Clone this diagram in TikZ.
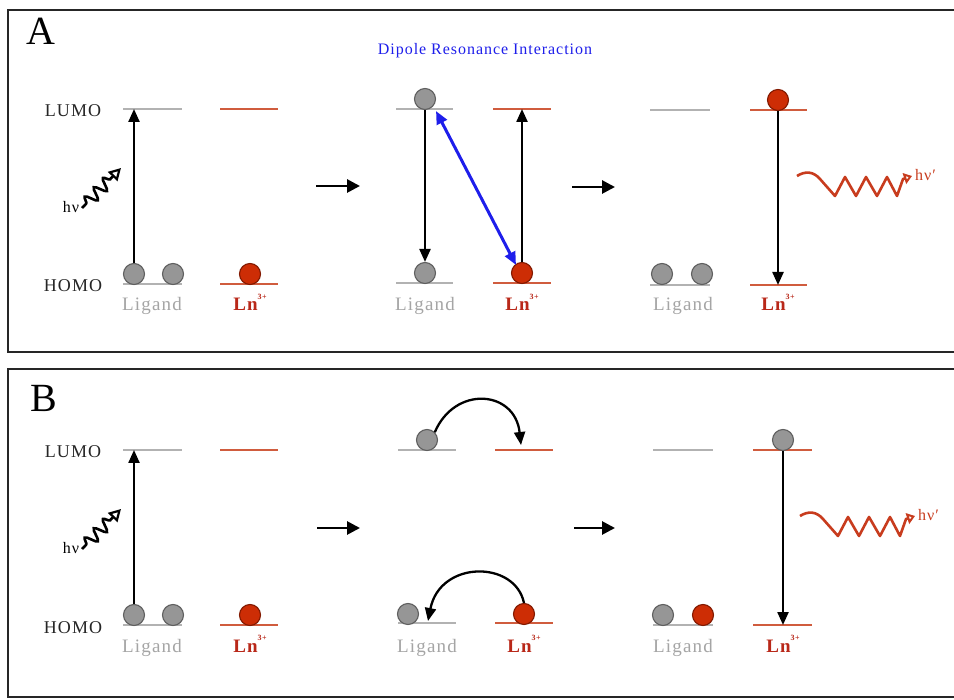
\documentclass[tikz,border=0pt]{standalone}
\usepackage{fontspec}
\setmainfont[LetterSpace=6]{Liberation Serif}
\usetikzlibrary{arrows.meta,decorations.pathmorphing}

\definecolor{lvlgray}{RGB}{178,178,178}
\definecolor{lvlred}{RGB}{208,92,62}
\definecolor{lntext}{RGB}{185,40,25}
\definecolor{ligtext}{RGB}{165,165,165}
\definecolor{dotgray}{RGB}{150,150,150}
\definecolor{dotgrayline}{RGB}{95,95,95}
\definecolor{dotred}{RGB}{205,45,5}
\definecolor{dotredline}{RGB}{130,25,0}
\definecolor{dipole}{RGB}{30,30,235}
\definecolor{emit}{RGB}{200,60,30}

\newcommand\lnion{Ln\raisebox{0.6em}{\fontsize{8}{8}\selectfont 3+}}

\tikzset{
  glevel/.style={draw=lvlgray, line width=1.7pt},
  rlevel/.style={draw=lvlred, line width=1.7pt},
  gdot/.style={circle, minimum size=21pt, inner sep=0pt, fill=dotgray, draw=dotgrayline, line width=1.1pt},
  rdot/.style={circle, minimum size=21pt, inner sep=0pt, fill=dotred, draw=dotredline, line width=1.1pt},
  trans/.style={line width=2.3pt, -{Triangle[length=13pt, width=11pt]}},
  react/.style={line width=2.8pt, -{Triangle[length=13pt, width=13pt]}},
  hop/.style={line width=2.3pt, -{Triangle[length=13pt, width=11pt]}},
  dipolearrow/.style={draw=dipole, line width=3pt, {Triangle[length=13pt, width=11pt]}-{Triangle[length=13pt, width=11pt]}},
  inwave/.style={line width=2.6pt, decorate,
    decoration={snake, amplitude=6pt, segment length=13pt, pre length=6pt, post length=10pt},
    -{Triangle[open, length=12pt, width=13pt, line width=2.2pt]}},
  emitwave/.style={draw=emit, line width=2.6pt, line join=round,
    -{Triangle[open, length=8pt, width=11pt, line width=2pt]}},
  panelbox/.style={draw=black!85, line width=1.8pt},
  panelletter/.style={font=\fontsize{40}{40}\selectfont, anchor=base, inner sep=0pt},
  levelname/.style={font=\fontsize{18}{18}\selectfont, text=black!85, anchor=base, inner sep=0pt},
  ligname/.style={font=\fontsize{19}{19}\selectfont, text=ligtext, anchor=base, inner sep=0pt},
  lnname/.style={font=\fontsize{19}{19}\selectfont\bfseries, text=lntext, anchor=base, inner sep=0pt},
  hvtext/.style={font=\fontsize{16}{16}\selectfont, anchor=base, inner sep=0pt},
  titletext/.style={font=\fontsize{16}{16}\selectfont, text=dipole, anchor=base, inner sep=0pt},
}

\begin{document}
\begin{tikzpicture}[x=1pt, y=-1pt]
\useasboundingbox (0,0) rectangle (954,700);
\clip (0,0) rectangle (954,700);
\fill[white] (0,0) rectangle (954,700);

% =================== Panel A ===================
\draw[panelbox] (8,10) rectangle (990,352);
\node[panelletter] (labA) at (41,45) {A};
\node[levelname] (lumoA) at (73,117) {LUMO};
\node[levelname] (homoA) at (73,292) {HOMO};
\node[titletext] (titleA) at (485,55) {Dipole Resonance Interaction};

% -- A, step 1: absorption by the ligand
\draw[glevel] (123,109) -- (182,109);
\draw[glevel] (123,284) -- (182,284);
\draw[rlevel] (220,109) -- (278,109);
\draw[rlevel] (220,284) -- (278,284);
\node[gdot] (aLg1) at (134,274) {};
\node[gdot] (aLg2) at (173,274) {};
\node[rdot] (aLr) at (250,274) {};
\coordinate (aLtop) at (134,109);
\draw[trans] (aLg1.north) -- (aLtop);
\node[hvtext] (aHv) at (71,213) {hν};
\coordinate (aHvs) at (82,208);
\coordinate (aHvt) at (121,168);
\draw[inwave] (aHvs) -- (aHvt);
\node[ligname] (aLlig) at (152,311) {Ligand};
\node[lnname] (aLln) at (250,311) {\lnion};

\coordinate (aAr1s) at (316,186);
\coordinate (aAr1e) at (360,186);
\draw[react] (aAr1s) -- (aAr1e);

% -- A, step 2: dipole coupling
\draw[glevel] (396,109) -- (453,109);
\draw[glevel] (396,283) -- (453,283);
\draw[rlevel] (493,109) -- (551,109);
\draw[rlevel] (493,283) -- (551,283);
\node[gdot] (aMgu) at (425,99) {};
\node[gdot] (aMgl) at (425,273) {};
\node[rdot] (aMr) at (522,273) {};
\draw[trans] (aMgu.south) -- (aMgl.north);
\coordinate (aMrtop) at (522,109);
\draw[trans] (aMr.north) -- (aMrtop);
\coordinate (aDip1) at (436,111);
\coordinate (aDip2) at (516,265);
\draw[dipolearrow] (aDip1) -- (aDip2);
\node[ligname] (aMlig) at (425,311) {Ligand};
\node[lnname] (aMln) at (522,311) {\lnion};

\coordinate (aAr2s) at (572,187);
\coordinate (aAr2e) at (615,187);
\draw[react] (aAr2s) -- (aAr2e);

% -- A, step 3: emission from the lanthanide
\draw[glevel] (650,110) -- (710,110);
\draw[glevel] (650,285) -- (710,285);
\draw[rlevel] (750,110) -- (807,110);
\draw[rlevel] (750,285) -- (807,285);
\node[rdot] (aRr) at (778,100) {};
\node[gdot] (aRg1) at (662,274) {};
\node[gdot] (aRg2) at (702,274) {};
\coordinate (aRbot) at (778,285);
\draw[trans] (aRr.south) -- (aRbot);
\coordinate (aEm) at (797,176);
\coordinate (aEmTip) at (912,176);
\draw[emitwave] (aEm) .. controls (805,171) and (813,171) .. (820,179)
  -- (835,196) -- (845,177) -- (856,196) -- (866,177) -- (877,196)
  -- (887,177) -- (897,196) -- (903,179) -- (aEmTip);
\node[hvtext, text=emit, anchor=base west] (aHvp) at (915,181) {hν′};
\node[ligname] (aRlig) at (683,311) {Ligand};
\node[lnname] (aRln) at (778,311) {\lnion};

% =================== Panel B ===================
\draw[panelbox] (8,369) rectangle (990,697);
\node[panelletter] (labB) at (44,412) {B};
\node[levelname] (lumoB) at (73,458) {LUMO};
\node[levelname] (homoB) at (73,633) {HOMO};

% -- B, step 1: absorption by the ligand
\draw[glevel] (123,450) -- (182,450);
\draw[glevel] (123,625) -- (182,625);
\draw[rlevel] (220,450) -- (278,450);
\draw[rlevel] (220,625) -- (278,625);
\node[gdot] (bLg1) at (134,615) {};
\node[gdot] (bLg2) at (173,615) {};
\node[rdot] (bLr) at (250,615) {};
\coordinate (bLtop) at (134,450);
\draw[trans] (bLg1.north) -- (bLtop);
\node[hvtext] (bHv) at (71,554) {hν};
\coordinate (bHvs) at (82,549);
\coordinate (bHvt) at (121,509);
\draw[inwave] (bHvs) -- (bHvt);
\node[ligname] (bLlig) at (152,652) {Ligand};
\node[lnname] (bLln) at (250,652) {\lnion};

\coordinate (bAr1s) at (317,528);
\coordinate (bAr1e) at (360,528);
\draw[react] (bAr1s) -- (bAr1e);

% -- B, step 2: electron exchange
\draw[glevel] (398,450) -- (456,450);
\draw[glevel] (398,623) -- (456,623);
\draw[rlevel] (495,450) -- (553,450);
\draw[rlevel] (495,623) -- (553,623);
\node[gdot] (bMgu) at (427,440) {};
\node[gdot] (bMgl) at (408,614) {};
\node[rdot] (bMr) at (524,614) {};
\coordinate (bMhopA) at (521,445);
\draw[hop] (bMgu.north east) .. controls (455,385) and (515,390) .. (bMhopA);
\coordinate (bMhopB) at (428,621);
\draw[hop] (bMr.north) .. controls (515,560) and (440,560) .. (bMhopB);
\node[ligname] (bMlig) at (427,652) {Ligand};
\node[lnname] (bMln) at (524,652) {\lnion};

\coordinate (bAr2s) at (574,528);
\coordinate (bAr2e) at (615,528);
\draw[react] (bAr2s) -- (bAr2e);

% -- B, step 3: emission from the lanthanide
\draw[glevel] (653,450) -- (713,450);
\draw[glevel] (653,625) -- (713,625);
\draw[rlevel] (753,450) -- (812,450);
\draw[rlevel] (753,625) -- (812,625);
\node[gdot] (bRg) at (783,440) {};
\node[gdot] (bRg1) at (663,615) {};
\node[rdot] (bRr1) at (703,615) {};
\coordinate (bRbot) at (783,625);
\draw[trans] (bRg.south) -- (bRbot);
\begin{scope}[shift={(3,340)}]
  \coordinate (bEm) at (797,176);
  \coordinate (bEmTip) at (912,176);
  \draw[emitwave] (bEm) .. controls (805,171) and (813,171) .. (820,179)
    -- (835,196) -- (845,177) -- (856,196) -- (866,177) -- (877,196)
    -- (887,177) -- (897,196) -- (903,179) -- (bEmTip);
\end{scope}
\node[hvtext, text=emit, anchor=base west] (bHvp) at (918,521) {hν′};
\node[ligname] (bRlig) at (683,652) {Ligand};
\node[lnname] (bRln) at (783,652) {\lnion};
\end{tikzpicture}
\end{document}
